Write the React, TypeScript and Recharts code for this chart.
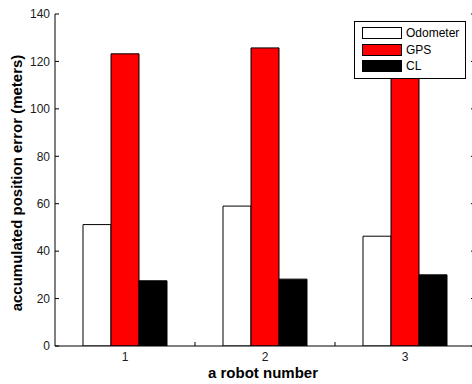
import React from 'react';
import { ComposedChart, Bar, Line, XAxis, YAxis, Legend, Label } from 'recharts';

const robots = ['1', '2', '3'];
const robotIndex = [1, 2, 3];
const odometer = [51.2, 59.0, 46.3];
const gps = [123.2, 125.7, 124.0];
const cl = [27.5, 28.2, 30.0];
const yTicks = [0, 20, 40, 60, 80, 100, 120, 140];
const xTicks = [1, 1.5, 2, 2.5, 3];
const seriesNames = ['Odometer', 'GPS', 'CL'];
const seriesColors = ['#ffffff', '#ff0000', '#000000'];
const xTitle = 'a robot number';
const yTitle = 'accumulated position error (meters)';

const FONT = '"Liberation Sans", Arial, Helvetica, sans-serif';

const data = robots.map((r, i) => ({
  robot: r,
  idx: robotIndex[i],
  Odometer: odometer[i],
  GPS: gps[i],
  CL: cl[i],
}));

const LeftTick = (props: any) => {
  const { x, y, payload } = props;
  return (
    <g>
      <line x1={x} x2={x + 4} y1={y} y2={y} stroke="#000" strokeWidth={1} />
      <text x={x - 5} y={y} dy="0.36em" textAnchor="end" fontSize={12} fontFamily={FONT} fill="#1a1a1a">
        {payload.value}
      </text>
    </g>
  );
};

const RightTick = (props: any) => {
  const { x, y } = props;
  return <line x1={x - 4} x2={x} y1={y} y2={y} stroke="#000" strokeWidth={1} />;
};

const BottomTick = (props: any) => {
  const { x, y, payload } = props;
  const v = payload.value;
  const isInt = Number.isInteger(v);
  return (
    <g>
      {!isInt && <line x1={x} x2={x} y1={y - 4} y2={y} stroke="#000" strokeWidth={1} />}
      {isInt && (
        <text x={x} y={y + 15} textAnchor="middle" fontSize={12} fontFamily={FONT} fill="#1a1a1a">
          {v}
        </text>
      )}
    </g>
  );
};

const TopTick = (props: any) => {
  const { x, y } = props;
  return <line x1={x} x2={x} y1={y} y2={y + 4} stroke="#000" strokeWidth={1} />;
};

const renderLegend = () => (
  <div
    style={{
      width: 112,
      height: 58,
      border: '1px solid #000',
      background: '#fff',
      boxSizing: 'border-box',
      fontFamily: FONT,
      fontSize: 12,
      position: 'relative',
      color: '#000',
    }}
  >
    {seriesNames.map((n, i) => (
      <div
        key={n}
        style={{ position: 'absolute', left: 7, top: 5 + i * 16.5, display: 'flex', alignItems: 'center', height: 12 }}
      >
        <div
          style={{
            width: 40,
            height: 12,
            background: seriesColors[i],
            border: '1px solid #000',
            boxSizing: 'border-box',
          }}
        />
        <span style={{ marginLeft: 4, lineHeight: '12px' }}>{n}</span>
      </div>
    ))}
  </div>
);

export default function App() {
  return (
    <div style={{ position: 'absolute', left: 0, top: 0, width: 472, height: 384, overflow: 'hidden', background: '#fff' }}>
      <ComposedChart
        width={480}
        height={384}
        data={data}
        margin={{ top: 14, right: 0, bottom: 0, left: 0 }}
        barCategoryGap="20%"
        barGap={0}
      >
        <XAxis xAxisId="cat" dataKey="robot" hide />
        <XAxis
          xAxisId="bottom"
          dataKey="idx"
          type="number"
          orientation="bottom"
          domain={[0.5, 3.5]}
          ticks={xTicks}
          allowDataOverflow
          height={38}
          tickSize={0}
          tickMargin={0}
          tickLine={false}
          interval={0}
          tick={<BottomTick />}
          axisLine={{ stroke: '#000', strokeWidth: 1 }}
        >
          <Label
            content={(p: any) => {
              const vb = p.viewBox;
              return (
                <text
                  x={vb.x + vb.width / 2 - 2}
                  y={vb.y + 32}
                  textAnchor="middle"
                  fontSize={15}
                  fontWeight="bold"
                  fontFamily={FONT}
                  fill="#000"
                >
                  {xTitle}
                </text>
              );
            }}
          />
        </XAxis>
        <XAxis
          xAxisId="top"
          dataKey="idx"
          type="number"
          orientation="top"
          domain={[0.5, 3.5]}
          ticks={xTicks}
          allowDataOverflow
          height={0}
          tickSize={0}
          tickMargin={0}
          tickLine={false}
          interval={0}
          tick={<TopTick />}
          axisLine={{ stroke: '#000', strokeWidth: 1 }}
        />
        <YAxis
          yAxisId="left"
          type="number"
          domain={[0, 140]}
          ticks={yTicks}
          allowDataOverflow
          width={55}
          tickSize={0}
          tickMargin={0}
          tickLine={false}
          interval={0}
          tick={<LeftTick />}
          axisLine={{ stroke: '#000', strokeWidth: 1 }}
        >
          <Label
            content={(p: any) => {
              const vb = p.viewBox;
              const cx = vb.x + 22;
              const cy = vb.y + vb.height / 2 + 3;
              return (
                <text
                  x={cx}
                  y={cy}
                  transform={`rotate(-90 ${cx} ${cy})`}
                  textAnchor="middle"
                  fontSize={15}
                  fontWeight="bold"
                  fontFamily={FONT}
                  fill="#000"
                >
                  {yTitle}
                </text>
              );
            }}
          />
        </YAxis>
        <YAxis
          yAxisId="right"
          orientation="right"
          type="number"
          domain={[0, 140]}
          ticks={yTicks}
          allowDataOverflow
          width={5}
          tickSize={0}
          tickMargin={0}
          tickLine={false}
          interval={0}
          tick={<RightTick />}
          axisLine={{ stroke: '#000', strokeWidth: 1 }}
        />
        <Legend
          layout="vertical"
          align="center"
          verticalAlign="middle"
          content={renderLegend}
          wrapperStyle={{ position: 'absolute', left: 354, top: 21, width: 112, height: 58 }}
        />
        {seriesNames.map((n, i) => (
          <Bar
            key={n}
            dataKey={n}
            xAxisId="cat"
            yAxisId="left"
            fill={seriesColors[i]}
            stroke="#000"
            strokeWidth={1}
            isAnimationActive={false}
          />
        ))}
        <Line
          dataKey="CL"
          xAxisId="bottom"
          yAxisId="left"
          stroke="none"
          dot={false}
          activeDot={false}
          legendType="none"
          isAnimationActive={false}
        />
        <Line
          dataKey="CL"
          xAxisId="top"
          yAxisId="right"
          stroke="none"
          dot={false}
          activeDot={false}
          legendType="none"
          isAnimationActive={false}
        />
      </ComposedChart>
    </div>
  );
}
